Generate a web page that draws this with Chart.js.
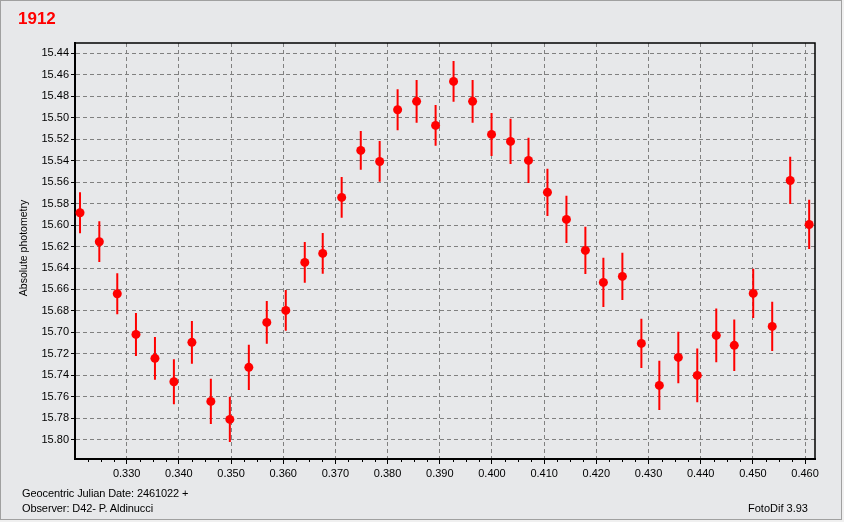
<!DOCTYPE html>
<html>
<head>
<meta charset="utf-8">
<script src="https://cdn.jsdelivr.net/npm/chart.js@4"></script>
<style>
  body { margin: 0; background: #f0f0f0; }
  #frame { position: absolute; left: 0; top: 0; width: 842px; height: 520px; box-sizing: border-box;
           border: 1px solid #a0a0a0; background: #e7e8ea; }
  #myChart { position: absolute; left: 0; top: 0; }
  .txt { position: absolute; font-family: "Liberation Sans", Arial, sans-serif; font-size: 11px; color: #000; white-space: nowrap; }
  #title { left: 18px; top: 9px; font-size: 17px; font-weight: bold; color: #ff0000; }
  #ylab { left: 23px; top: 248px; font-size: 10.5px; transform: translate(-50%, -50%) rotate(-90deg); }
  #jd { left: 22px; top: 487px; letter-spacing: -0.1px; }
  #obs { left: 22px; top: 502px; letter-spacing: -0.1px; }
  #ver { left: 748px; top: 502px; }
</style>
</head>
<body>
<div id="frame"></div>
<canvas id="myChart" width="844" height="522"></canvas>
<div class="txt" id="title">1912</div>
<div class="txt" id="ylab">Absolute photometry</div>
<div class="txt" id="jd">Geocentric Julian Date: 2461022 +</div>
<div class="txt" id="obs">Observer: D42- P. Aldinucci</div>
<div class="txt" id="ver">FotoDif 3.93</div>
<script>
// phase (JD - 2461022)
var jd = [0.32106, 0.32476, 0.3282, 0.33178, 0.33542, 0.33905, 0.3425, 0.34613, 0.34977, 0.35341,
  0.35685, 0.36049, 0.36413, 0.36757, 0.3712, 0.37486, 0.37848, 0.38192, 0.38556, 0.3892,
  0.39264, 0.39629, 0.39992, 0.40356, 0.407, 0.41063, 0.41427, 0.4179, 0.42135, 0.42499,
  0.42863, 0.43207, 0.43571, 0.43934, 0.44298, 0.44643, 0.45006, 0.4537, 0.45715, 0.46078];
// absolute magnitude
var mag = [15.5885, 15.6155, 15.664, 15.7019, 15.7242, 15.746, 15.7093, 15.7643, 15.7811, 15.7326,
  15.6907, 15.6795, 15.6348, 15.6264, 15.5742, 15.5304, 15.5407, 15.4925, 15.4847, 15.5071,
  15.4661, 15.4847, 15.5155, 15.522, 15.5397, 15.5695, 15.5947, 15.6236, 15.6534, 15.6478,
  15.7103, 15.7494, 15.7233, 15.7401, 15.7028, 15.7121, 15.6637, 15.6944, 15.5584, 15.5994];
// error (half length of bar)
var err = [0.019, 0.019, 0.019, 0.020, 0.020, 0.021, 0.020, 0.021, 0.021, 0.021,
  0.020, 0.019, 0.019, 0.019, 0.019, 0.018, 0.019, 0.019, 0.020, 0.019,
  0.019, 0.020, 0.020, 0.021, 0.021, 0.022, 0.022, 0.022, 0.023, 0.022,
  0.023, 0.023, 0.024, 0.025, 0.025, 0.024, 0.023, 0.023, 0.022, 0.023];

var xTicks = [0.330, 0.340, 0.350, 0.360, 0.370, 0.380, 0.390, 0.400, 0.410, 0.420, 0.430, 0.440, 0.450, 0.460];
var xMinor = [0.3225, 0.325, 0.3275, 0.3325, 0.335, 0.3375, 0.3425, 0.345, 0.3475, 0.3525, 0.355, 0.3575,
  0.3625, 0.365, 0.3675, 0.3725, 0.375, 0.3775, 0.3825, 0.385, 0.3875, 0.3925, 0.395, 0.3975,
  0.4025, 0.405, 0.4075, 0.4125, 0.415, 0.4175, 0.4225, 0.425, 0.4275, 0.4325, 0.435, 0.4375,
  0.4425, 0.445, 0.4475, 0.4525, 0.455, 0.4575];
var yTicks = [15.44, 15.46, 15.48, 15.50, 15.52, 15.54, 15.56, 15.58, 15.60, 15.62,
  15.64, 15.66, 15.68, 15.70, 15.72, 15.74, 15.76, 15.78, 15.80];

var points = jd.map(function (x, i) { return { x: x, y: mag[i] }; });
var bars = [];
jd.forEach(function (x, i) {
  bars.push({ x: x, y: mag[i] - err[i] });
  bars.push({ x: x, y: mag[i] + err[i] });
  bars.push({ x: x, y: null });
});

var tickFont = { family: '"Liberation Sans", Arial, sans-serif', size: 11 };

// top/right frame of the plot and minor x ticks
var framePlugin = {
  id: 'frame',
  afterDraw: function (chart) {
    var c = chart.ctx, a = chart.chartArea, xs = chart.scales.x;
    c.save();
    c.strokeStyle = '#000';
    c.lineWidth = 1.5;
    c.beginPath();
    c.moveTo(a.left, a.top); c.lineTo(a.right, a.top); c.lineTo(a.right, a.bottom);
    c.stroke();
    c.lineWidth = 1;
    c.beginPath();
    xMinor.forEach(function (v) {
      var px = Math.round(xs.getPixelForValue(v)) + 0.5;
      c.moveTo(px, a.bottom); c.lineTo(px, a.bottom + 3);
    });
    c.stroke();
    c.restore();
  }
};

var ctx = document.getElementById('myChart').getContext('2d');
var myChart = new Chart(ctx, {
  type: 'scatter',
  data: {
    datasets: [{
      data: bars,
      showLine: true,
      spanGaps: false,
      borderColor: '#ff0000',
      borderWidth: 2,
      pointRadius: 0,
      pointHoverRadius: 0
    }, {
      data: points,
      backgroundColor: '#ff0000',
      borderWidth: 0,
      pointRadius: 4.5,
      pointHoverRadius: 4.5
    }]
  },
  options: {
    responsive: false,
    animation: false,
    events: [],
    layout: { padding: { left: 0, top: 43, right: 29, bottom: 41 } },
    plugins: { legend: { display: false }, tooltip: { enabled: false } },
    scales: {
      x: {
        type: 'linear',
        min: 0.3201,
        max: 0.4619,
        afterBuildTicks: function (s) { s.ticks = xTicks.map(function (v) { return { value: v }; }); },
        afterFit: function (s) { s.height = 22; },
        ticks: {
          font: tickFont, color: '#000', padding: 3, maxRotation: 0, autoSkip: false,
          callback: function (v) { return v.toFixed(3); }
        },
        grid: { color: '#808080', lineWidth: 1, borderDash: [4, 3], tickColor: '#000', tickLength: 5 },
        border: { color: '#000', width: 2, dash: [4, 3] }
      },
      y: {
        type: 'linear',
        reverse: true,
        min: 15.4303,
        max: 15.818,
        afterBuildTicks: function (s) { s.ticks = yTicks.map(function (v) { return { value: v }; }); },
        afterFit: function (s) { s.width = 75; },
        ticks: {
          font: tickFont, color: '#000', padding: 2, autoSkip: false,
          callback: function (v) { return v.toFixed(2); }
        },
        grid: { color: '#808080', lineWidth: 1, borderDash: [4, 3], tickColor: '#000', tickLength: 4 },
        border: { color: '#000', width: 2, dash: [4, 3] }
      }
    }
  },
  plugins: [framePlugin]
});
</script>
</body>
</html>
